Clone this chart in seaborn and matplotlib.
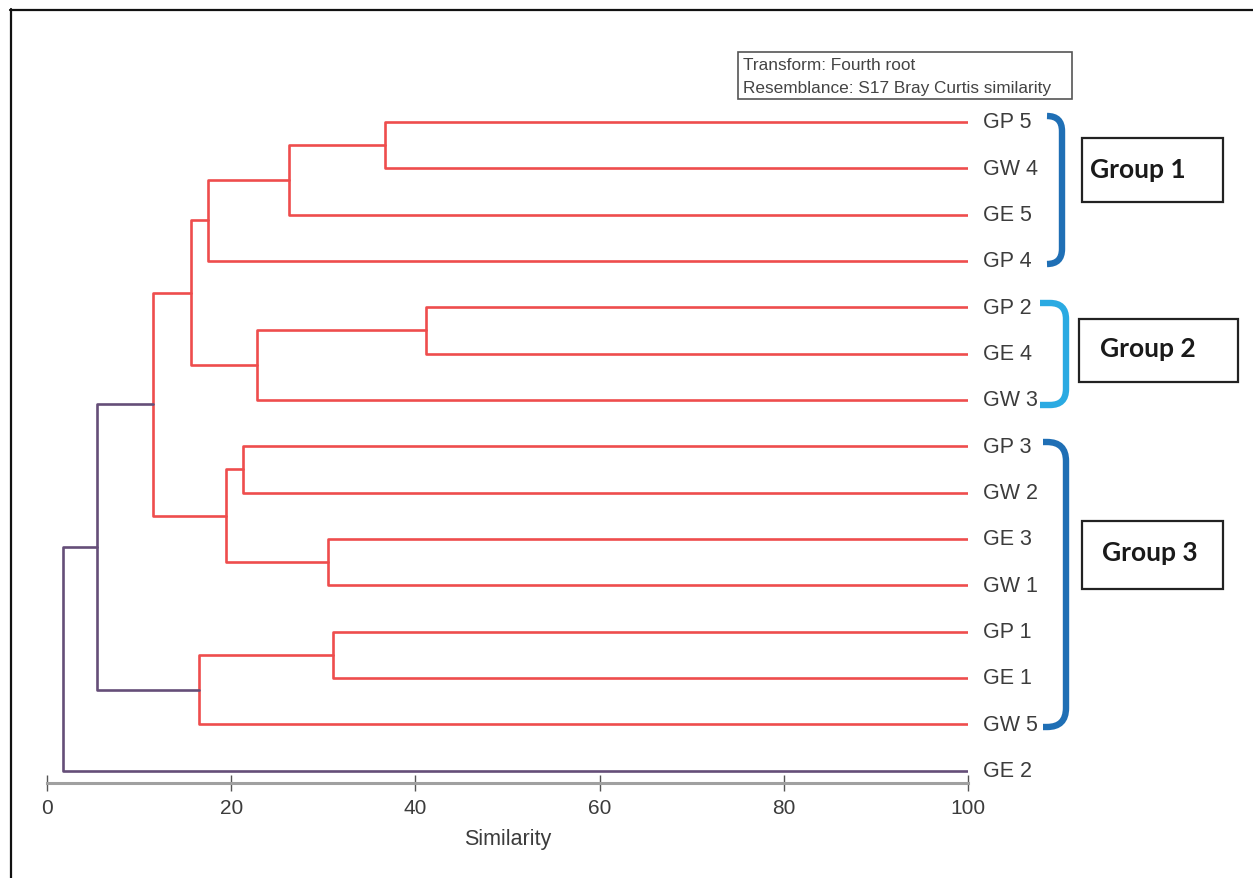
import numpy as np
import pandas as pd
import matplotlib
matplotlib.use("Agg")
import matplotlib.pyplot as plt
import seaborn as sns
from matplotlib.path import Path
from matplotlib.patches import PathPatch, Rectangle
from matplotlib.lines import Line2D

# leaves top to bottom, as in the dendrogram
leaves = ["GP 5", "GW 4", "GE 5", "GP 4", "GP 2", "GE 4", "GW 3",
          "GP 3", "GW 2", "GE 3", "GW 1", "GP 1", "GE 1", "GW 5", "GE 2"]

# merges (node k+1 = merge_left[k] + merge_right[k]) at a similarity level
merge_left = ["GP 5", "n1", "n2", "GP 2", "n4", "n3", "GP 3", "GE 3", "n7", "n6", "GP 1", "n11", "n10", "n13"]
merge_right = ["GW 4", "GE 5", "GP 4", "GE 4", "GW 3", "n5", "GW 2", "GW 1", "n8", "n9", "GE 1", "GW 5", "n12", "GE 2"]
merge_sim = [36.7, 26.3, 17.5, 41.2, 22.8, 15.6, 21.3, 30.5, 19.4, 11.5, 31.1, 16.5, 5.4, 1.7]
merge_kind = ["inner"] * 12 + ["outer"] * 2

x_ticks = [0, 20, 40, 60, 80, 100]
group_names = ["Group 1", "Group 2", "Group 3"]
legend_lines = ["Transform: Fourth root", "Resemblance: S17 Bray Curtis similarity"]

# build the link paths
pos = {name: float(i) for i, name in enumerate(leaves)}
level = {name: 100.0 for name in leaves}
rows = []
for k, (a, b, s, kind) in enumerate(zip(merge_left, merge_right, merge_sim, merge_kind)):
    xs = [level[a], s, s, level[b]]
    ys = [pos[a], pos[a], pos[b], pos[b]]
    for x, y in zip(xs, ys):
        rows.append({"link": k, "x": x, "y": y, "kind": kind})
    node = f"n{k + 1}"
    pos[node] = (pos[a] + pos[b]) / 2
    level[node] = s
links = pd.DataFrame(rows)

sns.set_theme(style="white")
plt.rcParams['font.family'] = ['Liberation Sans', 'DejaVu Sans']

W, H = 1253, 879
fig = plt.figure(figsize=(W / 100, H / 100), dpi=100)
fig.patch.set_facecolor("white")

# main axes placed in pixel terms
ax_left, ax_right, ax_top, ax_bot = 47, 968, 100, 784
ax = fig.add_axes([ax_left / W, 1 - ax_bot / H, (ax_right - ax_left) / W, (ax_bot - ax_top) / H])
ax.set_facecolor("none")

sns.lineplot(data=links, x="x", y="y", units="link", estimator=None, sort=False,
             hue="kind", palette={"inner": "#ee4d4d", "outer": "#654e78"},
             legend=False, linewidth=1.9, ax=ax)

leaf_step = 46.33
ax.set_xlim(0, 100)
ax.set_ylim((ax_bot - 123) / leaf_step, (ax_top - 123) / leaf_step)

for i, name in enumerate(leaves):
    ax.text(101.6, i, name, ha="left", va="center", fontsize=15.5, color="#3c3c3c", clip_on=False)

for side in ["top", "right", "left"]:
    ax.spines[side].set_visible(False)
ax.spines["bottom"].set_color("#a0a0a0")
ax.spines["bottom"].set_linewidth(2.2)
ax.set_yticks([])
ax.set_xticks(x_ticks)
ax.tick_params(axis="x", direction="inout", length=12, width=1.0, color="#555555",
               labelsize=15, labelcolor="#3c3c3c", pad=5, bottom=True)
ax.set_xlabel("Similarity", fontsize=15.5, color="#3c3c3c", labelpad=8)
ax.set_ylabel("")

# overlay in pixel coordinates for brackets / boxes
ov = fig.add_axes([0, 0, 1, 1])
ov.set_xlim(0, W)
ov.set_ylim(H, 0)
ov.set_axis_off()
ov.patch.set_alpha(0)

def bracket(xe, xv, yt, yb, rr, color):
    verts = [(xe, yt), (xv - rr, yt), (xv, yt), (xv, yt + rr),
             (xv, yb - rr), (xv, yb), (xv - rr, yb), (xe, yb)]
    codes = [Path.MOVETO, Path.LINETO, Path.CURVE3, Path.CURVE3,
             Path.LINETO, Path.CURVE3, Path.CURVE3, Path.LINETO]
    ov.add_patch(PathPatch(Path(verts, codes), fill=False, edgecolor=color,
                           linewidth=4.6, capstyle="butt"))

bracket(1047, 1062, 117, 265, 15, "#1f6fb5")
bracket(1040, 1066, 304, 406, 16, "#2aaae2")
bracket(1043, 1066, 443, 728, 19, "#1f6fb5")

boxes = [(1082, 139, 1223, 203, 1090, 170),
         (1079, 320, 1238, 383, 1100, 349),
         (1082, 522, 1223, 590, 1102, 553)]
for name, (x0, y0, x1, y1, tx, ty) in zip(group_names, boxes):
    ov.add_patch(Rectangle((x0, y0), x1 - x0, y1 - y0, fill=False,
                           edgecolor="#222222", linewidth=1.6))
    ov.text(tx, ty, name, ha="left", va="center", fontsize=19, fontweight="bold",
            color="#1a1a1a", family=["Lato", "DejaVu Sans"])

# info box
ov.add_patch(Rectangle((738, 53), 334, 47, fill=False, edgecolor="#555555", linewidth=1.2))
ov.text(743, 66, legend_lines[0], ha="left", va="center", fontsize=12.4, color="#444444")
ov.text(743, 88, legend_lines[1], ha="left", va="center", fontsize=12.4, color="#444444")

# outer frame (top and left edges visible)
ov.add_line(Line2D([10, W], [10.5, 10.5], color="#111111", linewidth=1.6))
ov.add_line(Line2D([10.5, 10.5], [10, H], color="#111111", linewidth=1.6))

fig.savefig("out.png", dpi=100)
